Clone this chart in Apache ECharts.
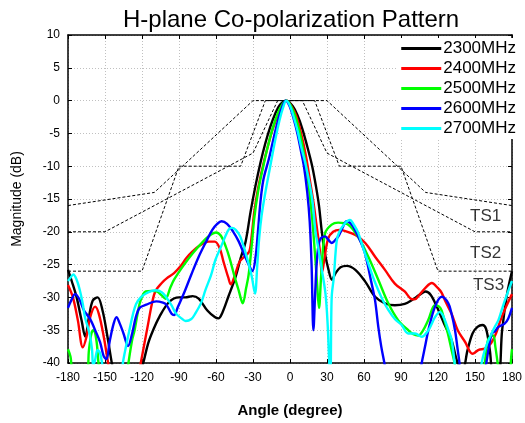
<!DOCTYPE html>
<html>
<head>
<meta charset="utf-8">
<script src="https://cdn.jsdelivr.net/npm/echarts@6/dist/echarts.min.js"></script>
<style>
html,body{margin:0;padding:0;background:#fff;}
#chart{width:525px;height:423px;}
</style>
</head>
<body>
<div id="chart"></div>
<script>
const xTicks = [-180, -150, -120, -90, -60, -30, 0, 30, 60, 90, 120, 150, 180];
const yTicks = [-40, -35, -30, -25, -20, -15, -10, -5, 0, 5, 10];
const seriesNames = ['2300MHz', '2400MHz', '2500MHz', '2600MHz', '2700MHz'];
const seriesColors = ['#000000', '#ff0000', '#00ff00', '#0000ff', '#00ffff'];

const s2300 = [[-180,-25.8],[-177,-27.5],[-173,-30],[-169,-33.5],[-166,-36],[-163,-33],[-160,-30.5],[-156,-30],[-152,-32],[-148,-36],[-144,-40.5],[-140,-44],[-125,-44],[-119,-40],[-115,-37],[-111,-35],[-106,-33],[-98,-30.7],[-90,-30],[-85,-30],[-79,-29.8],[-74,-30.2],[-67,-32],[-61,-33],[-58,-33.2],[-55,-32.4],[-50,-29.9],[-44,-26.8],[-40,-24],[-36,-21.5],[-32,-17],[-28,-13],[-24,-9.5],[-20,-6.5],[-16,-4],[-12,-2],[-8,-0.6],[-3,0],[2,-0.8],[6,-2.2],[10,-4.3],[14,-7],[18,-10],[21,-13],[23.5,-16],[25.5,-19.5],[28,-23],[31,-25.6],[34,-27.3],[37,-26.3],[41,-25.4],[46,-25.2],[53,-25.8],[61,-27.6],[69,-29.9],[77,-30.9],[85,-31.2],[93,-31],[99,-30.4],[105,-29.6],[110,-29.1],[114,-29.6],[119,-31.4],[125,-34],[131,-36.5],[136,-40],[140,-41],[144,-38],[148,-35.5],[152,-34.5],[156,-34.2],[159,-34.8],[162,-38],[165,-42],[169,-42],[172,-35],[176,-29.5],[180,-26]];

const s2400 = [[-180,-28.1],[-176,-30],[-172,-33.5],[-168,-37.6],[-165,-36],[-162,-33],[-158,-31.4],[-155,-32.5],[-151,-36],[-147,-40.5],[-143,-44],[-125,-44],[-121,-40],[-118,-37],[-115,-34],[-112,-31],[-109,-29],[-104,-27.8],[-100,-27.1],[-94,-26.3],[-89,-25.3],[-84,-24],[-79,-23],[-74,-22.2],[-66,-21.5],[-61,-21.5],[-57,-22.5],[-54,-24.5],[-50,-27],[-48,-28],[-45,-26.8],[-41,-24.6],[-37,-23.8],[-33,-23],[-31,-20.5],[-29,-17],[-26,-13.5],[-22,-10],[-18,-7],[-14,-4.3],[-10,-2.3],[-6,-0.7],[-3,0],[1,-0.8],[5,-2.3],[9,-5],[13,-8.5],[16,-12],[19,-15.5],[21.5,-19],[24,-22.5],[26,-26.2],[28,-24],[31,-21],[35,-20],[40,-19.7],[45,-19.9],[53,-20.5],[61,-21.7],[69,-23.8],[77,-25.8],[85,-27.9],[93,-29.1],[98,-30.2],[101,-30.3],[105,-29.6],[110,-28.5],[115,-27.8],[120,-28.6],[123,-29.3],[126,-30.6],[131,-32.5],[136,-35],[142,-36.8],[148,-38.6],[153,-38],[158,-37.8],[163,-37],[167,-35.5],[171,-33.3],[175,-31.5],[180,-29.5]];

const s2500 = [[-180,-37.9],[-178,-39],[-175,-42],[-165,-42],[-163,-38],[-161,-35.5],[-159.5,-35],[-157,-36.5],[-155,-40.5],[-152,-44],[-134,-44],[-131,-40],[-128,-36.5],[-126,-35],[-122,-31],[-119,-29.5],[-117,-29.1],[-112,-29],[-108,-29.1],[-104,-29.7],[-101,-30.2],[-97,-28.5],[-94,-27.3],[-87,-25.3],[-79,-23.3],[-69,-21.2],[-64,-20.4],[-60,-20.1],[-56,-20.6],[-52,-22.3],[-49,-24],[-45,-26.8],[-41.5,-29],[-38.3,-30.9],[-35.5,-28.5],[-33.5,-26.5],[-31,-22],[-29,-18],[-26,-14],[-22,-10.3],[-18,-7],[-14,-4.2],[-10,-2],[-6,-0.5],[-3,0],[1,-0.9],[5,-2.8],[9,-5.8],[12.5,-9.5],[15.5,-13.5],[18,-18],[20.5,-24],[22,-28],[23.5,-31.6],[25.5,-26],[28.5,-20.2],[33.8,-18.9],[39,-18.6],[47,-18.9],[55,-20.7],[63.5,-23.8],[71.6,-27.3],[79.7,-30.9],[87.8,-33.5],[95.9,-35],[100,-35.6],[104,-35.8],[108,-35],[112,-33.5],[117.6,-31.2],[121,-31.4],[123,-32],[128,-35.5],[131,-38],[134,-40.5],[137,-44],[155,-44],[158,-40],[160.7,-36.4],[164.7,-35.8],[166.5,-37.5],[168.7,-40.5],[171,-44],[177,-44],[179.4,-39],[180,-37.9]];

const s2600 = [[-180,-31.6],[-177,-30.3],[-174.3,-29.5],[-171,-30.2],[-167,-32],[-162,-33.3],[-158,-35],[-154,-36.8],[-151,-39],[-149,-39.4],[-146,-36.5],[-143,-34],[-140.7,-33],[-138,-34],[-135,-35.5],[-131.3,-37.4],[-128,-35.5],[-125,-33],[-122,-31.6],[-116.5,-31.1],[-108.4,-30.6],[-103,-30.8],[-100.3,-31.1],[-96,-32.5],[-94,-32.7],[-91,-31.5],[-85,-28.9],[-80,-26.5],[-74,-23.8],[-68,-21.5],[-63,-19.7],[-59,-18.8],[-55.5,-18.4],[-51,-18.8],[-46,-20],[-41.5,-21.5],[-37,-23.5],[-33,-25.2],[-30.5,-26],[-28,-24],[-26,-20],[-24,-15.5],[-21.5,-12],[-17,-8.8],[-13,-5.5],[-9,-2.5],[-6,-0.8],[-3.5,0],[0,-1],[3,-2.8],[6,-5],[9,-7.8],[11.3,-10],[14,-14],[16,-18.5],[17.5,-25],[19,-35],[20.5,-29],[22,-24],[24.3,-21.2],[28.4,-20.7],[31,-21.2],[33.8,-21.7],[36,-21.4],[39.2,-20.7],[43,-19.2],[46,-18.4],[49,-18.7],[52.7,-19.7],[56.5,-21.2],[60.8,-23.3],[66.2,-27.9],[69,-30.5],[71.6,-34.5],[74,-37.5],[77,-40.5],[80,-44],[103,-44],[106.8,-40],[109.5,-37.5],[112.2,-35],[117.6,-31.4],[123,-29.9],[128.4,-30.9],[131,-32.5],[133.8,-35],[136,-38],[137.8,-40.5],[140,-44],[156,-44],[159.2,-40],[163.5,-35.5],[166,-35.2],[169,-34.5],[174,-34],[177,-33.2],[180,-31.6]];

const s2700 = [[-180,-27.5],[-178,-27],[-175.7,-26.5],[-173,-27.3],[-170.4,-28.9],[-168,-31],[-166.3,-33],[-164,-34.5],[-162.2,-35.8],[-160.5,-38],[-159.6,-40.5],[-158,-39.5],[-156,-38],[-154,-38.5],[-152,-40.5],[-150,-44],[-138,-44],[-135.5,-40],[-133,-37.5],[-130.2,-35],[-127.5,-32.7],[-124.8,-31],[-121,-30],[-116.8,-29.4],[-112,-29],[-108.7,-28.9],[-104,-29.2],[-100.7,-29.9],[-96,-31.2],[-92.7,-32.4],[-88,-33.2],[-84.6,-33.6],[-80,-33.3],[-76.6,-32.4],[-72,-30.8],[-68.6,-28.9],[-64,-26.6],[-60.5,-24.3],[-56,-22.3],[-52.5,-20.7],[-49.5,-19.6],[-47,-19.4],[-44,-19.7],[-40.4,-20.7],[-36,-23.2],[-33.7,-24.8],[-31,-26.8],[-28.4,-29.4],[-26.5,-25],[-25,-21],[-23,-17.5],[-20,-14],[-16,-10],[-12,-6],[-8.5,-3],[-5.5,-1],[-3,0],[0,-0.8],[3,-2.5],[6,-4.5],[9,-7],[13,-10],[18,-15],[20.7,-20],[23,-22.5],[26,-26],[28.8,-29.5],[30.5,-34],[32,-40.5],[32.8,-42],[33.8,-30],[35.5,-27],[37.8,-21.5],[40,-20],[44.6,-18.7],[48.6,-18.2],[52,-19],[55.4,-20.2],[59,-22.3],[63.5,-24.8],[67.5,-27],[71.6,-28.9],[75.5,-30.5],[79.7,-31.9],[85,-33.3],[90.5,-34.2],[95.9,-35.5],[101.4,-35.5],[106.8,-36],[112.2,-35],[115,-34],[117.6,-33],[121.6,-32.2],[123.5,-32.6],[125.7,-33.5],[128.5,-35],[131.1,-36.5],[133.8,-40.5],[136,-44],[152,-44],[155.4,-40],[158,-38],[161,-36.5],[163.5,-35.5],[166,-34.5],[168.9,-33.5],[171.5,-32],[174.3,-30.4],[177,-29],[180,-27.5]];

const ts1 = [[-180,-16],[-110,-14],[-30,0],[30,0],[110,-14],[180,-16]];
const ts2 = [[-180,-20],[-150,-20],[-30,-8],[-10,0],[10,0],[30,-8],[150,-20],[180,-20]];
const ts3 = [[-180,-26],[-120,-26],[-90,-10],[-40,-10],[-20,0],[20,0],[40,-10],[90,-10],[120,-26],[180,-26]];
const tsLabels = [[158.6,-17.6,'TS1'],[158.6,-23.3,'TS2'],[161,-28.2,'TS3']];

const curveData = [s2300, s2400, s2500, s2600, s2700];
const FONT = 'Liberation Sans, Arial, sans-serif';

const chart = echarts.init(document.getElementById('chart'));

const series = [];
[ts1, ts2, ts3].forEach(function (d, i) {
  series.push({
    name: 'TS' + (i + 1), type: 'line', data: d, symbol: 'none', silent: true,
    lineStyle: { color: '#000', width: 1, type: [3, 2] }, z: 1
  });
});
series.push({
  name: 'tsLabels', type: 'scatter', data: tsLabels, symbolSize: 0, silent: true, z: 1,
  label: { show: true, position: 'inside', formatter: function (p) { return p.data[2]; },
    color: '#000', fontSize: 17, fontFamily: FONT }
});
curveData.forEach(function (d, i) {
  series.push({
    name: seriesNames[i], type: 'line', data: d, symbol: 'none', smooth: 0.35,
    lineStyle: { color: seriesColors[i], width: 2.4 }, itemStyle: { color: seriesColors[i] }, z: 3 + i
  });
});

const axisCommon = {
  type: 'value', min: -180, max: 180, interval: 30
};

chart.setOption({
  animation: false,
  backgroundColor: '#fff',
  title: {
    text: 'H-plane Co-polarization Pattern', left: 118, top: 3,
    textStyle: { fontFamily: FONT, fontWeight: 'normal', fontSize: 24, color: '#000' }
  },
  grid: { left: 68, right: 11, top: 35, bottom: 60 },
  legend: {
    data: seriesNames.map(function (n) { return { name: n, icon: 'rect' }; }),
    orient: 'vertical', right: 9, top: 38,
    itemWidth: 40, itemHeight: 3, itemGap: 3, backgroundColor: '#fff',
    padding: [2, 0, 2, 4],
    textStyle: { fontFamily: FONT, fontSize: 17, color: '#000', padding: [0, 0, 0, -3], lineHeight: 17 }
  },
  xAxis: [
    Object.assign({}, axisCommon, {
      position: 'bottom',
      name: 'Angle (degree)', nameLocation: 'middle', nameGap: 40,
      nameTextStyle: { fontFamily: FONT, fontWeight: 'bold', fontSize: 15, color: '#000' },
      axisLine: { show: true, onZero: false, lineStyle: { color: '#000', width: 1.5 } },
      axisTick: { show: true, inside: true, length: 4, lineStyle: { color: '#000' } },
      axisLabel: { fontFamily: FONT, fontSize: 12, color: '#000', margin: 9,
        formatter: function (v) { return xTicks.indexOf(v) >= 0 ? String(v) : ''; } },
      splitLine: { show: true, lineStyle: { color: '#c0c0c0', type: [1, 2], width: 1 } }
    }),
    Object.assign({}, axisCommon, {
      position: 'top',
      axisLine: { show: true, onZero: false, lineStyle: { color: '#000', width: 1.5 } },
      axisTick: { show: true, inside: true, length: 4, lineStyle: { color: '#000' } },
      axisLabel: { show: false }, splitLine: { show: false }
    })
  ],
  yAxis: [
    {
      type: 'value', min: -40, max: 10, interval: 5, position: 'left',
      name: 'Magnitude (dB)', nameLocation: 'middle', nameGap: 44, nameRotate: 90,
      nameTextStyle: { fontFamily: FONT, fontSize: 14, color: '#000' },
      axisLine: { show: true, onZero: false, lineStyle: { color: '#000', width: 1.5 } },
      axisTick: { show: true, inside: true, length: 4, lineStyle: { color: '#000' } },
      axisLabel: { fontFamily: FONT, fontSize: 12, color: '#000', margin: 8,
        formatter: function (v) { return yTicks.indexOf(v) >= 0 ? String(v) : ''; } },
      splitLine: { show: true, lineStyle: { color: '#c0c0c0', type: [1, 2], width: 1 } }
    },
    {
      type: 'value', min: -40, max: 10, interval: 5, position: 'right',
      axisLine: { show: true, onZero: false, lineStyle: { color: '#000', width: 1.5 } },
      axisTick: { show: true, inside: true, length: 4, lineStyle: { color: '#000' } },
      axisLabel: { show: false }, splitLine: { show: false }
    }
  ],
  series: series
});
</script>
</body>
</html>
